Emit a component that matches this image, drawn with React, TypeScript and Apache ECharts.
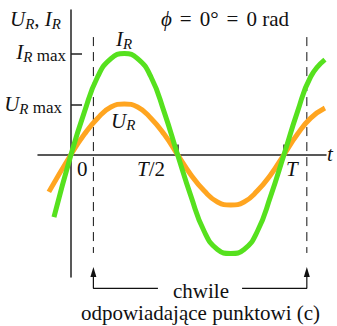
import React, { useEffect, useRef } from "react";
import * as echarts from "echarts";

// time in units of the period T, values in units of I_R max
const X_MIN = -0.155;
const X_MAX = 1.197;
const Y_MIN = -1.213;
const Y_MAX = 1.431;

const currentT = [-0.08, 0, 0.0625, 0.125, 0.1875, 0.25, 0.3125, 0.375, 0.4375, 0.5, 0.5625, 0.625, 0.6875, 0.75, 0.8125, 0.875, 0.9375, 1, 1.0625, 1.125, 1.192];
const currentI = [-0.62, 0, 0.42, 0.77, 0.95, 1.0, 0.95, 0.77, 0.42, 0, -0.41, -0.76, -0.94, -0.98, -0.94, -0.76, -0.41, 0, 0.42, 0.77, 0.94];

const voltageT = [-0.104, 0, 0.0625, 0.125, 0.1875, 0.25, 0.3125, 0.375, 0.4375, 0.5, 0.5625, 0.625, 0.6875, 0.75, 0.8125, 0.875, 0.9375, 1, 1.0625, 1.125, 1.192];
const voltageU = [-0.37, 0, 0.2, 0.36, 0.47, 0.5, 0.47, 0.36, 0.2, 0, -0.2, -0.36, -0.47, -0.5, -0.47, -0.36, -0.2, 0, 0.2, 0.36, 0.46];

const xTicks = [0.5, 1];
const yTicks = [0.49, 1];

// instants marked with dashed lines and bracket
const instants = [0.105, 1.107];
const dashTop = 1.163;
const dashBottom = -0.975;
const arrowTip = -1.163;
const bracketY = -1.325;
const bracketGapLeft = 0.408;
const bracketGapRight = 0.803;

const FAM = "'Liberation Serif', 'Times New Roman', serif";
const INK = "#111";

const rich = {
  it: { font: `italic 21px ${FAM}`, fill: INK, lineHeight: 24 },
  up: { font: `21px ${FAM}`, fill: INK, lineHeight: 24 },
  eq: { font: `21px ${FAM}`, fill: INK, lineHeight: 24, padding: [0, 8, 0, 8] },
  sb: { font: `italic 15px ${FAM}`, fill: INK, lineHeight: 10, verticalAlign: "bottom" },
  mx: { font: `17px ${FAM}`, fill: INK, lineHeight: 10, verticalAlign: "bottom" },
};

function txt(text: string, x: number, y: number, align: string = "left") {
  return {
    type: "text",
    x,
    y,
    silent: true,
    style: {
      text,
      rich,
      font: `21px ${FAM}`,
      fill: INK,
      textAlign: align,
      textVerticalAlign: "middle",
    },
  };
}

export default function App() {
  const ref = useRef<HTMLDivElement>(null);
  useEffect(() => {
    if (!ref.current) return;
    const chart = echarts.init(ref.current, null, { renderer: "svg" });
    const axisColor = "#222";
    chart.setOption({
      animation: false,
      grid: { left: 38, right: 11, top: 10, bottom: 49, containLabel: false },
      xAxis: {
        type: "value",
        min: X_MIN,
        max: X_MAX,
        axisLine: { onZero: true, lineStyle: { color: axisColor, width: 1.5 } },
        axisTick: { show: true, inside: true, length: 10, customValues: xTicks, lineStyle: { color: axisColor, width: 1.5 } },
        axisLabel: { show: false },
        splitLine: { show: false },
      },
      yAxis: {
        type: "value",
        min: Y_MIN,
        max: Y_MAX,
        axisLine: { show: true, onZero: true, lineStyle: { color: axisColor, width: 1.5 } },
        axisTick: { show: true, inside: true, length: 11, customValues: yTicks, lineStyle: { color: axisColor, width: 1.5 } },
        axisLabel: { show: false },
        splitLine: { show: false },
      },
      series: [
        ...instants.map((t) => ({
          type: "line",
          data: [[t, dashTop], [t, dashBottom]],
          symbol: "none",
          lineStyle: { color: INK, width: 1, type: [9, 6] },
          z: 1,
          clip: false,
        })),
        {
          type: "line",
          data: [
            { value: [instants[0], arrowTip], symbol: "triangle", symbolSize: [6, 10] },
            { value: [instants[0], bracketY], symbol: "none" },
            { value: [bracketGapLeft, bracketY], symbol: "none" },
          ],
          showSymbol: true,
          symbol: "none",
          itemStyle: { color: INK },
          lineStyle: { color: INK, width: 1.2 },
          clip: false,
          z: 1,
        },
        {
          type: "line",
          data: [
            { value: [bracketGapRight, bracketY], symbol: "none" },
            { value: [instants[1], bracketY], symbol: "none" },
            { value: [instants[1], arrowTip], symbol: "triangle", symbolSize: [6, 10] },
          ],
          showSymbol: true,
          symbol: "none",
          itemStyle: { color: INK },
          lineStyle: { color: INK, width: 1.2 },
          clip: false,
          z: 1,
        },
        {
          name: "U_R",
          type: "line",
          data: voltageT.map((t, k) => [t, voltageU[k]]),
          smooth: 0.5,
          symbol: "none",
          lineStyle: { color: "#ffa520", width: 5 },
          z: 3,
          clip: false,
        },
        {
          name: "I_R",
          type: "line",
          data: currentT.map((t, k) => [t, currentI[k]]),
          smooth: 0.5,
          symbol: "none",
          lineStyle: { color: "#56e11e", width: 5 },
          z: 4,
          clip: false,
        },
      ],
      graphic: [
        txt("{it|U}{sb|R}{up|, }{it|I}{sb|R}", 10, 19),
        txt("{it|I}{sb|R}{mx| max}", 66, 52, "right"),
        txt("{it|U}{sb|R}{mx| max}", 62, 104, "right"),
        txt("{it|I}{sb|R}", 116, 39),
        txt("{it|U}{sb|R}", 111, 120.5),
        txt("{up|0}", 77, 168.5),
        txt("{it|T}{up|/2}", 137, 168.5),
        txt("{it|T}", 286, 168.5),
        txt("{it|t}", 327, 153.5),
        txt("{it|ϕ}{eq|=}{up|0°}{eq|=}{up|0 rad}", 161, 18.5),
        txt("{up|chwile}", 201, 290.5, "center"),
        txt("{up|odpowiadające punktowi (c)}", 200.5, 312.5, "center"),
      ],
    });
    return () => chart.dispose();
  }, []);
  return <div ref={ref} style={{ width: 337, height: 326, position: "absolute", left: 0, top: 0 }} />;
}
